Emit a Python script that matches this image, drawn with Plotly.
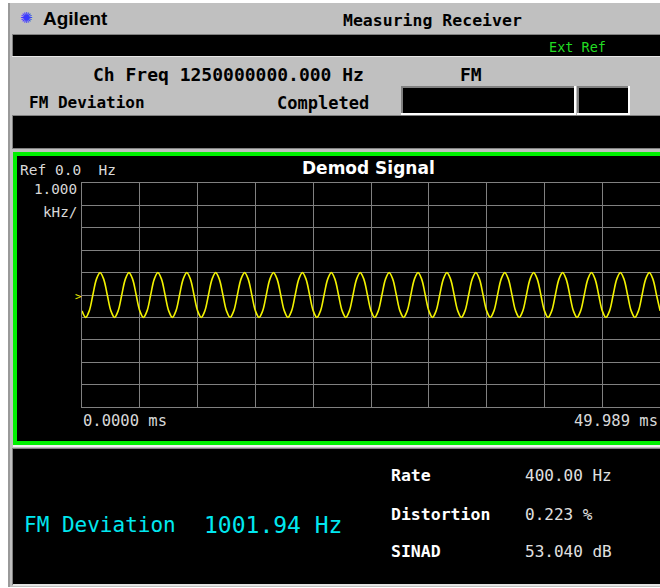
import plotly.graph_objects as go

# ---------------- data ----------------
SPAN_MS = 49.989          # sweep span (ms)
SAMPLE_START_MS = 0.0
SAMPLE_STEP_MS = 0.3125   # trace sample spacing (ms)
REF_HZ = 0.0
SCALE_KHZ_PER_DIV = 1.0

# demodulated FM signal (kHz)
demod_khz = [
    -0.71, -1.00, -0.71, 0.00, 0.71, 1.00, 0.71, 0.00,
    -0.71, -1.00, -0.71, 0.00, 0.71, 1.00, 0.71, 0.00,
    -0.71, -1.00, -0.71, 0.00, 0.71, 1.00, 0.71, 0.00,
    -0.71, -1.00, -0.71, 0.00, 0.71, 1.00, 0.71, 0.00,
    -0.71, -1.00, -0.71, 0.00, 0.71, 1.00, 0.71, 0.00,
    -0.71, -1.00, -0.71, 0.00, 0.71, 1.00, 0.71, 0.00,
    -0.71, -1.00, -0.71, 0.00, 0.71, 1.00, 0.71, 0.00,
    -0.71, -1.00, -0.71, 0.00, 0.71, 1.00, 0.71, 0.00,
    -0.71, -1.00, -0.71, 0.00, 0.71, 1.00, 0.71, 0.00,
    -0.71, -1.00, -0.71, 0.00, 0.71, 1.00, 0.71, 0.00,
    -0.71, -1.00, -0.71, 0.00, 0.71, 1.00, 0.71, 0.00,
    -0.71, -1.00, -0.71, 0.00, 0.71, 1.00, 0.71, 0.00,
    -0.71, -1.00, -0.71, 0.00, 0.71, 1.00, 0.71, 0.00,
    -0.71, -1.00, -0.71, 0.00, 0.71, 1.00, 0.71, 0.00,
    -0.71, -1.00, -0.71, 0.00, 0.71, 1.00, 0.71, 0.00,
    -0.71, -1.00, -0.71, 0.00, 0.71, 1.00, 0.71, 0.00,
    -0.71, -1.00, -0.71, 0.00, 0.71, 1.00, 0.71, 0.00,
    -0.71, -1.00, -0.71, 0.00, 0.71, 1.00, 0.71, 0.00,
    -0.71, -1.00, -0.71, 0.00, 0.71, 1.00, 0.71, 0.00,
    -0.71, -1.00, -0.71, 0.00, 0.71, 1.00, 0.71, 0.00,
    -0.71,
]

result_labels = ["Rate", "Distortion", "SINAD"]
result_values = ["400.00 Hz", "0.223 %", "53.040 dB"]
main_label = "FM Deviation"
main_value = "1001.94 Hz"
ch_freq_text = "Ch Freq 1250000000.000 Hz"
x_start_label = "0.0000 ms"
x_end_label = "49.989 ms"

# ---------------- layout geometry ----------------
W, H = 660, 588
ML, MR, MT, MB = 82, 0, 183, 181
PW, PH = W - ML - MR, H - MT - MB


def X(p):
    return (p - ML) / PW


def Y(p):
    return (H - MB - p) / PH


fig = go.Figure()
fig.add_trace(go.Scatter(
    y=demod_khz, x0=SAMPLE_START_MS, dx=SAMPLE_STEP_MS,
    mode="lines", line=dict(color="#f2f200", width=1.6, shape="spline", smoothing=1.0),
    hoverinfo="skip", showlegend=False,
))

shapes = []


def rect(x0, y0, x1, y1, fill):
    shapes.append(dict(type="rect", xref="paper", yref="paper", layer="below",
                       x0=X(x0), x1=X(x1), y0=Y(y0), y1=Y(y1),
                       fillcolor=fill, line=dict(width=0)))


rect(8, 3, 660, 587, "#c0c0c0")
rect(8, 3, 10, 587, "#9a9a9a")
# header black bar
rect(12, 34, 660, 57, "#e8e8e8")
rect(12, 34, 660, 56, "#808080")
rect(13, 35, 660, 56, "#000000")
# status boxes
for bx0, bx1 in [(401, 576), (577, 630)]:
    rect(bx0, 86, bx1, 115, "#ffffff")
    rect(bx0, 86, bx1 - 2, 113, "#808080")
    rect(bx0 + 2, 88, bx1 - 2, 113, "#000000")
# second black bar
rect(12, 115, 660, 149, "#808080")
rect(13, 116, 660, 148, "#000000")
# plot panel with green frame
rect(13, 152, 690, 445, "#00f000")
rect(17, 156, 690, 441, "#000000")
rect(13, 445, 660, 447, "#f0f0f0")
# bottom results panel
rect(12, 448, 660, 585, "#808080")
rect(13, 449, 660, 584, "#000000")
rect(13, 584, 660, 586, "#e4e4e4")

annotations = []


def txt(s, x, y, size, color, family="DejaVu Sans Mono", anchor="left", bold=False):
    annotations.append(dict(
        text=f"<b>{s}</b>" if bold else s, xref="paper", yref="paper",
        x=X(x), y=Y(y), xanchor=anchor, yanchor="middle", showarrow=False,
        font=dict(family=family, size=size, color=color), borderpad=0,
    ))


txt("✺", 26, 18, 15, "#3a3aff", family="DejaVu Sans", anchor="center")
txt("Agilent", 42, 18, 19, "#000000", family="Liberation Sans", bold=True)
txt("Measuring Receiver", 432, 20, 16.5, "#000000", bold=True, anchor="center")
txt("Ext Ref", 548, 47, 13.5, "#22dd22")
txt(ch_freq_text, 92, 74, 18, "#000000", bold=True)
txt("FM", 459, 74, 18, "#000000", bold=True)
txt("FM Deviation", 28, 102, 16, "#000000", bold=True)
txt("Completed", 276, 103, 17, "#000000", bold=True)

txt(f"Ref {REF_HZ:.1f}  Hz", 19, 170, 14.5, "#d8d8d8")
txt("Demod Signal", 368, 168, 17, "#ffffff", family="DejaVu Sans", anchor="center", bold=True)
txt(f"{SCALE_KHZ_PER_DIV:.3f}", 78, 189, 14.3, "#d8d8d8", anchor="right")
txt("kHz/", 78, 212, 14.3, "#d8d8d8", anchor="right")
txt(x_start_label, 82, 421, 15.5, "#d8d8d8")
txt(x_end_label, 659, 421, 15.5, "#d8d8d8", anchor="right")
txt(">", 83, 296, 11, "#f2f200", anchor="right")

txt(main_label, 23, 525, 21, "#00e8f0")
txt(main_value, 203, 525, 23, "#00e8f0")
for lab, val, yy in zip(result_labels, result_values, [475, 514, 551]):
    txt(lab, 390, yy, 16.5, "#ffffff", bold=True)
    txt(val, 524, yy, 16, "#e0e0e0")

GRID = "#808080"
fig.update_layout(
    width=W, height=H,
    margin=dict(l=ML, r=MR, t=MT, b=MB, pad=0),
    paper_bgcolor="#ffffff", plot_bgcolor="rgba(0,0,0,0)",
    shapes=shapes, annotations=annotations, showlegend=False,
    xaxis=dict(range=[0, SPAN_MS], tick0=0, dtick=SPAN_MS / 10, showgrid=True,
               gridcolor=GRID, gridwidth=1, zeroline=False, showticklabels=False,
               ticks="", showline=True, linecolor=GRID, linewidth=1, mirror=True,
               fixedrange=True),
    yaxis=dict(range=[-5 * SCALE_KHZ_PER_DIV, 5 * SCALE_KHZ_PER_DIV], tick0=0,
               dtick=SCALE_KHZ_PER_DIV, showgrid=True, gridcolor=GRID, gridwidth=1,
               zeroline=False, showticklabels=False, ticks="", showline=True,
               linecolor=GRID, linewidth=1, mirror=True, fixedrange=True),
)

fig.write_html(
    "out.html",
    config={"displayModeBar": False},
    post_script="document.body.style.margin='0';document.body.style.overflow='hidden';",
)
